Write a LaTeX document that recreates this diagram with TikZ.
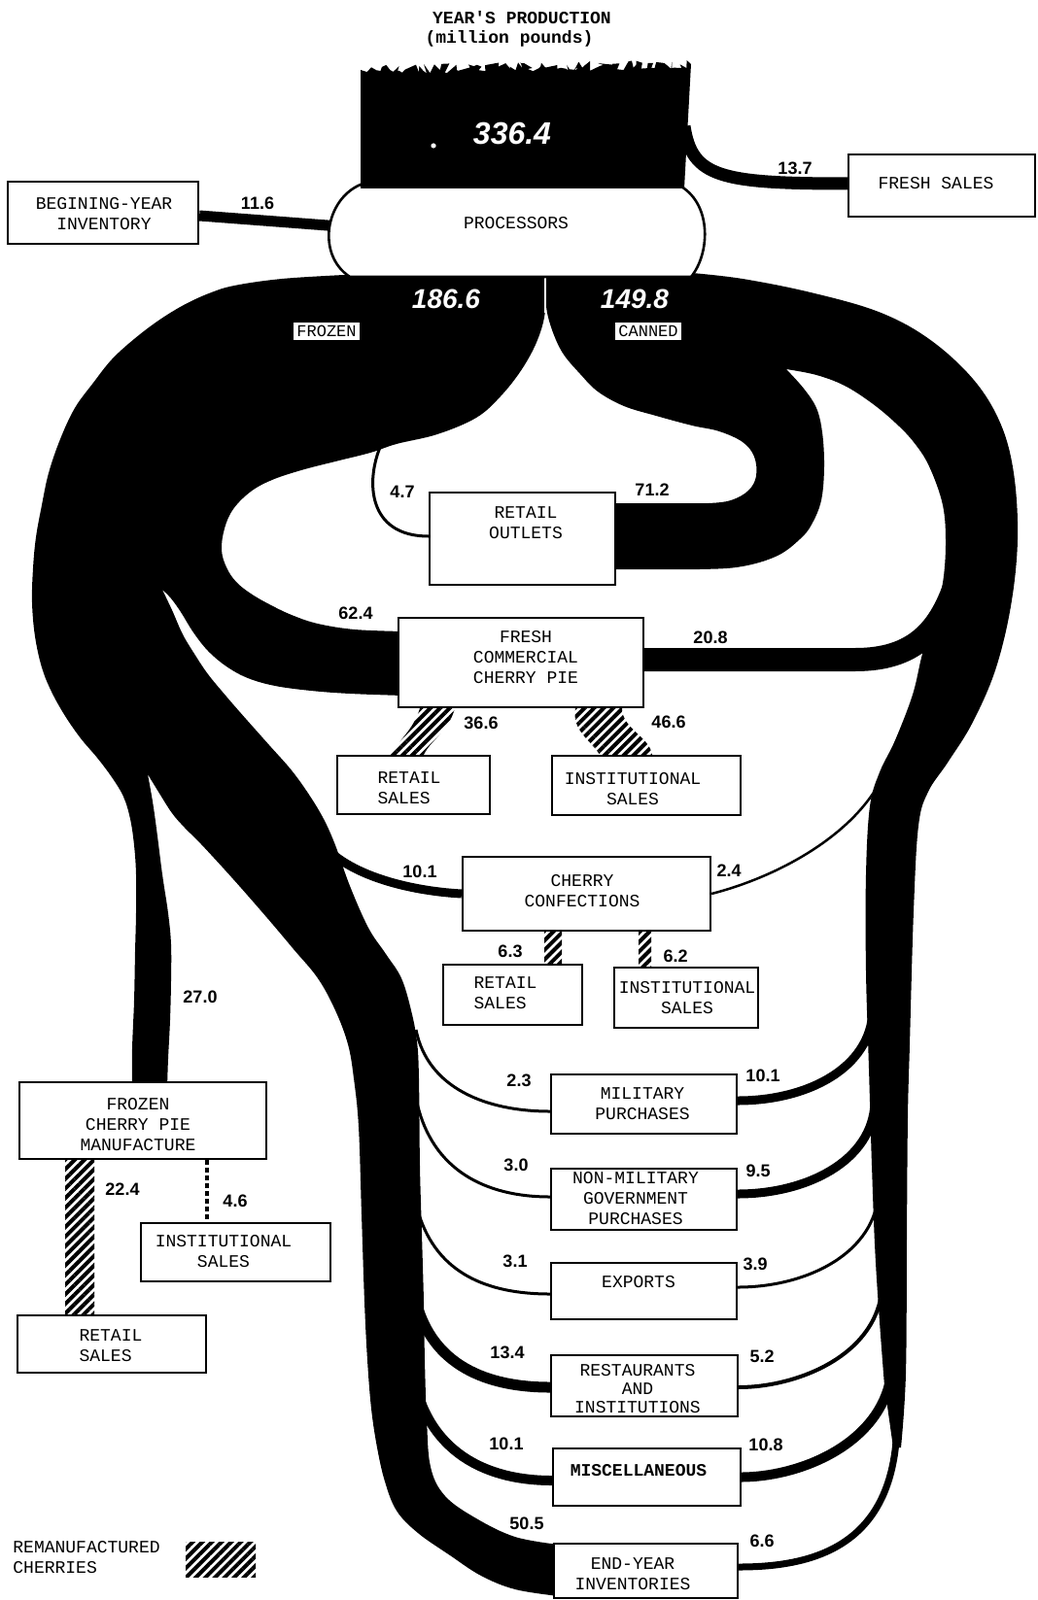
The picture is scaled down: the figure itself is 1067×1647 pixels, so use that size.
\documentclass[tikz,border=0pt]{standalone}
\usepackage{fontspec}
\setmonofont{Liberation Mono}
\newfontfamily\hand{Liberation Sans}
\usetikzlibrary{patterns.meta,decorations.pathmorphing}
\pgfdeclarelayer{bg}
\pgfsetlayers{bg,main}
\newcommand\tw{\ttfamily\fontsize{9}{10.5}\selectfont}
\tikzset{
 bx/.style={draw, line width=1.1pt, fill=white, inner sep=0pt},
 txt/.style={font=\tw, align=center, inner sep=0pt},
 txl/.style={font=\tw, align=left, inner sep=0pt},
 num/.style={font=\hand\bfseries\fontsize{9}{9}\selectfont, inner sep=0pt},
 wnum/.style={font=\hand\bfseries\itshape\fontsize{14}{14}\selectfont, text=white, inner sep=0pt},
 fw/.style={line width=#1*0.5pt, line cap=butt},
 hatch/.style={pattern={Lines[angle=45,distance=3.5pt,line width=2pt]}, pattern color=black},
 tag/.style={draw, line width=0.5pt, fill=white, font=\ttfamily\fontsize{8.5}{8.5}\selectfont, inner xsep=2pt, inner ysep=2pt},
}
\begin{document}
\begin{tikzpicture}[x=0.5pt,y=-0.5pt]
\useasboundingbox (0,0) rectangle (1067,1647);

% ---------- title ----------
\node[font=\tw\bfseries, inner sep=0pt] (title) at (537,18) {YEAR'S PRODUCTION};
\node[font=\tw\bfseries, inner sep=0pt] (unit) at (524,40) {(million pounds)};

% ---------- processors and production block ----------
\draw[line width=1.3pt, fill=white] (371,190) .. controls (335,205) and (325,262) .. (360,285)
  -- (711,285) .. controls (730,262) and (733,212) .. (701,192) -- cycle;
\node[txt] (proc) at (531,230) {PROCESSORS};
\fill (371,194) -- (371,72) decorate[decoration={random steps,segment length=1.5pt,amplitude=2.5pt}]{-- (711,66)} -- (704,194) -- cycle;
\node[wnum, font=\hand\bfseries\itshape\fontsize{16}{16}\selectfont] (prod) at (527,137) {336.4};
\fill[white] (446,150) circle (1.3pt);

% ---------- boxes ----------
\node[bx, minimum width=98pt, minimum height=32pt] (inv) at (106,219) {};
\node[txt] (inv-t) at (107,220) {BEGINING-YEAR\\INVENTORY};
\node[bx, minimum width=96pt, minimum height=32pt] (fresh) at (969,191) {};
\node[txt] (fresh-t) at (963,189) {FRESH SALES};
\node[bx, minimum width=95.5pt, minimum height=47.5pt] (ro) at (537.5,554.5) {};
\node[txt] (ro-t) at (541,538) {RETAIL\\OUTLETS};
\node[bx, minimum width=126pt, minimum height=46pt] (fccp) at (536,682) {};
\node[txt] (fccp-t) at (541,677) {FRESH\\COMMERCIAL\\CHERRY PIE};
\node[bx, minimum width=78.5pt, minimum height=30pt] (rs1) at (425.5,808) {};
\node[txl] (rs1-t) at (421,811) {RETAIL\\SALES};
\node[bx, minimum width=97pt, minimum height=30.5pt] (is1) at (665,808.5) {};
\node[txt] (is1-t) at (651,812) {INSTITUTIONAL\\SALES};
\node[bx, minimum width=127.5pt, minimum height=38pt] (cc) at (603.5,920) {};
\node[txt] (cc-t) at (599,917) {CHERRY\\CONFECTIONS};
\node[bx, minimum width=71.5pt, minimum height=31pt] (rs2) at (527.5,1024) {};
\node[txl] (rs2-t) at (520,1022) {RETAIL\\SALES};
\node[bx, minimum width=74pt, minimum height=31pt] (is2) at (706,1027) {};
\node[txt] (is2-t) at (707,1027) {INSTITUTIONAL\\SALES};
\node[bx, minimum width=95.5pt, minimum height=30.5pt] (mp) at (662.5,1136.5) {};
\node[txt] (mp-t) at (661,1136) {MILITARY\\PURCHASES};
\node[bx, minimum width=95.5pt, minimum height=31.5pt] (nm) at (662.5,1234.5) {};
\node[txt] (nm-t) at (654,1234) {NON-MILITARY\\GOVERNMENT\\PURCHASES};
\node[bx, minimum width=95.5pt, minimum height=29pt] (ex) at (662.5,1329) {};
\node[txt] (ex-t) at (657,1320) {EXPORTS};
\node[bx, minimum width=96pt, minimum height=31.5pt] (ri) at (663,1426.5) {};
\node[txt, font=\ttfamily\fontsize{9}{9.5}\selectfont] (ri-t) at (656,1430) {RESTAURANTS\\AND\\INSTITUTIONS};
\node[bx, minimum width=96.5pt, minimum height=29.5pt] (misc) at (665.5,1520.5) {};
\node[txt, font=\tw\bfseries] (misc-t) at (657,1514) {MISCELLANEOUS};
\node[bx, minimum width=94.5pt, minimum height=28pt] (ey) at (664.5,1617) {};
\node[txt] (ey-t) at (651,1620) {END-YEAR\\INVENTORIES};
\node[bx, minimum width=127pt, minimum height=39.5pt] (fcpm) at (147,1153.5) {};
\node[txt] (fcpm-t) at (142,1158) {FROZEN\\CHERRY PIE\\MANUFACTURE};
\node[bx, minimum width=97.5pt, minimum height=30pt] (is3) at (242.5,1289) {};
\node[txt] (is3-t) at (230,1288) {INSTITUTIONAL\\SALES};
\node[bx, minimum width=97pt, minimum height=29.5pt] (rs3) at (115,1383.5) {};
\node[txl] (rs3-t) at (114,1385) {RETAIL\\SALES};

% ---------- legend ----------
\node[txl, anchor=west] (leg-t) at (13,1603) {REMANUFACTURED\\CHERRIES};
\node[hatch, minimum width=36pt, minimum height=18pt, inner sep=0pt] (leg-h) at (227,1605) {};

% ---------- stream tags and values ----------
\node[tag] (frozen) at (336,341) {FROZEN};
\node[tag] (canned) at (667,341) {CANNED};
\node[wnum] (v186) at (459,308) {186.6};
\node[wnum] (v149) at (653,308) {149.8};
\node[num] (v116) at (265,209) {11.6};
\node[num] (v137) at (818,173) {13.7};
\node[num] (v47) at (414,506) {4.7};
\node[num] (v712) at (671,504) {71.2};
\node[num] (v624) at (366,631) {62.4};
\node[num] (v208) at (731,656) {20.8};
\node[num] (v366) at (495,744) {36.6};
\node[num] (v466) at (688,743) {46.6};
\node[num] (v101c) at (432,897) {10.1};
\node[num] (v24) at (750,896) {2.4};
\node[num] (v63) at (525,979) {6.3};
\node[num] (v62) at (695,984) {6.2};
\node[num] (v270) at (206,1026) {27.0};
\node[num] (v224) at (126,1224) {22.4};
\node[num] (v46) at (242,1236) {4.6};
\node[num] (v23) at (534,1112) {2.3};
\node[num] (v101m) at (785,1107) {10.1};
\node[num] (v30) at (531,1199) {3.0};
\node[num] (v95) at (780,1205) {9.5};
\node[num] (v31) at (530,1298) {3.1};
\node[num] (v39) at (777,1301) {3.9};
\node[num] (v134) at (522,1392) {13.4};
\node[num] (v52) at (784,1396) {5.2};
\node[num] (v101x) at (521,1486) {10.1};
\node[num] (v108) at (788,1487) {10.8};
\node[num] (v505) at (542,1568) {50.5};
\node[num] (v66) at (784,1586) {6.6};

% ---------- flows ----------
\begin{pgfonlayer}{bg}
\coordinate (procL) at (350,233);
\coordinate (blkR) at (704,130);
\draw[fw=11] ([yshift=-1.5pt]inv.east) -- (procL);
\draw[fw=13] (blkR) .. controls (712,182) and (740,189) .. ([yshift=1pt]fresh.west);

% frozen mass
\fill plot[smooth,tension=0.6] coordinates {(561,283) (561,320) (553,350) (537,380) (515,408) (490,430) (450,447) (408,457) (381,466) (345,475) (310,484) (280,494) (258,506) (240,524) (231,544) (228,566) (233,584) (243,599) (258,611) (277,622) (300,633) (327,642) (365,648) (415,650)}
  -- plot[smooth,tension=0.6] coordinates {(415,716) (360,714) (320,711) (283,706) (255,698) (233,686) (214,670) (199,651) (186,630) (176,616) (167,607)}
  -- plot[smooth,tension=0.6] coordinates {(167,607) (177,628) (188,653) (200,673) (214,694) (233,717) (253,740) (277,767) (300,793) (318,818) (333,843) (345,870) (360,912) (379,955) (397,982) (413,1007) (423,1040) (429,1072) (431,1110) (432,1200) (434,1270) (436,1340) (437,1400) (439,1460) (443,1510) (458,1540) (490,1563) (530,1582) (575,1590)}
  -- plot[smooth,tension=0.6] coordinates {(575,1643) (530,1636) (495,1622) (463,1601) (430,1578) (408,1555) (396,1525) (388,1490) (382,1450) (378,1400) (375,1340) (372,1250) (369,1160) (364,1110) (358,1075) (345,1040) (327,1007) (302,977) (275,945) (240,905) (207,869) (190,852) (177,837) (163,815) (152,797)}
  -- plot[smooth,tension=0.6] coordinates {(152,797) (157,825) (161,853) (167,900) (173,940) (176,972) (176,1010) (175,1050) (173,1090) (172,1120)}
  -- plot[smooth,tension=0.6] coordinates {(136,1120) (136,1080) (138,1030) (139,980) (140,940) (140,900) (138,870) (134,843) (127,820) (115,800) (100,780) (83,760) (67,737) (53,712) (43,687) (36,655) (33,620) (34,585) (37,553) (43,520) (50,487) (62,452) (77,420) (96,394) (115,370) (138,349) (163,330) (189,314) (215,302) (241,294) (290,287) (354,283)}
  -- cycle;

% canned mass
\fill (561,283) -- (712,281)
  -- plot[smooth,tension=0.6] coordinates {(712,281) (764,287) (834,301) (904,321) (956,349) (1001,390) (1029,435) (1043,487) (1047,555) (1040,624) (1024,690) (1000,745) (975,785) (955,815) (945,850) (940,938) (936,1075) (934,1150) (933,1274) (932,1414) (927,1490)}
  -- plot[smooth,tension=0.6] coordinates {(919,1490) (912,1440) (909,1414) (901,1300) (897,1200) (894,1100) (891,1000) (891,900) (895,830) (905,795) (921,762) (939,715) (949,673) (962,630) (970,600) (973,560) (970,520) (956,480) (940,455) (921,435) (897,415) (869,397) (840,386) (809,380)}
  -- plot[smooth,tension=0.6] coordinates {(809,380) (827,400) (840,420) (846,445) (848,480) (845,515) (835,540) (823,555) (800,572) (764,583) (720,586) (630,586)}
  -- plot[smooth,tension=0.6] coordinates {(630,518) (700,518) (729,518) (752,515) (770,505) (778,490) (776,470) (764,455) (740,444) (712,438) (675,428) (642,418) (615,403) (597,385) (580,365) (570,345) (563,322) (561,300) (561,283)}
  -- cycle;
\draw[white, line width=1pt] (561,283) -- (561,322);

% canned branches
\coordinate (cT208) at (985,595);
\coordinate (cT24) at (914,785);
\coordinate (cT101) at (898,1040);
\coordinate (cT95) at (900,1135);
\coordinate (cT39) at (904,1225);
\coordinate (cT52) at (908,1320);
\coordinate (cT108) at (918,1400);
\coordinate (cT66) at (923,1460);
\draw[fw=24] ([yshift=1.5pt]fccp.east) -- (880,679) .. controls (940,679) and (968,650) .. (cT208);
\draw[fw=2.5] (cT24) .. controls (893,850) and (810,900) .. (cc.east);
\draw[fw=9] (cT101) .. controls (896,1100) and (830,1133) .. ([yshift=1.75pt]mp.east);
\draw[fw=9] (cT95) .. controls (898,1195) and (830,1229) .. ([yshift=2.75pt]nm.east);
\draw[fw=3] (cT39) .. controls (902,1290) and (830,1325) .. ([yshift=2pt]ex.east);
\draw[fw=4] (cT52) .. controls (906,1395) and (820,1428) .. ([yshift=-0.75pt]ri.east);
\draw[fw=10] (cT108) .. controls (918,1480) and (830,1520) .. (misc.east);
\draw[fw=7] (cT66) .. controls (923,1590) and (840,1613) .. ([yshift=2pt]ey.east);

% frozen branches
\coordinate (fT47) at (392,458);
\coordinate (fT101) at (325,860);
\coordinate (fT23) at (428,1060);
\coordinate (fT30) at (429,1135);
\coordinate (fT31) at (431,1250);
\coordinate (fT134) at (428,1340);
\coordinate (fT101x) at (425,1415);
\draw[fw=3] (fT47) .. controls (376,495) and (378,552) .. ([yshift=1.25pt]ro.west);
\draw[fw=9] (fT101) .. controls (350,900) and (420,917) .. (cc.west);
\draw[fw=3] (fT23) .. controls (440,1120) and (500,1144) .. ([yshift=-3.75pt]mp.west);
\draw[fw=3] (fT30) .. controls (445,1205) and (500,1232) .. ([yshift=1.25pt]nm.west);
\draw[fw=3] (fT31) .. controls (450,1310) and (500,1332) .. ([yshift=-1.5pt]ex.west);
\draw[fw=11] (fT134) .. controls (445,1405) and (500,1428) .. ([yshift=-0.75pt]ri.west);
\draw[fw=10] (fT101x) .. controls (440,1495) and (500,1524) .. ([yshift=-1.75pt]misc.west);

% remanufactured (hatched) flows
\fill[hatch] ([xshift=-52pt]fccp.south) .. controls (425,752) and (410,762) .. ([xshift=-11.75pt]rs1.north)
  -- ([xshift=5.25pt]rs1.north) .. controls (443,762) and (462,752) .. ([xshift=-34pt]fccp.south) -- cycle;
\fill[hatch] ([xshift=28pt]fccp.south) .. controls (588,752) and (608,762) .. ([xshift=-24pt]is1.north)
  -- ([xshift=3pt]is1.north) .. controls (668,758) and (640,750) .. ([xshift=52pt]fccp.south) -- cycle;
\fill[hatch] ([xshift=-21.75pt]cc.south) rectangle ([xshift=25.25pt]rs2.north);
\fill[hatch] ([xshift=26.75pt]cc.south) rectangle ([xshift=-18pt]is2.north);
\fill[hatch] ([xshift=-40pt]fcpm.south) rectangle ([xshift=-9pt]rs3.north);
\draw[line width=2pt, dash pattern=on 2.5pt off 1.5pt] ([xshift=33pt]fcpm.south) -- ([xshift=-14.75pt]is3.north);
\end{pgfonlayer}
\end{tikzpicture}
\end{document}
